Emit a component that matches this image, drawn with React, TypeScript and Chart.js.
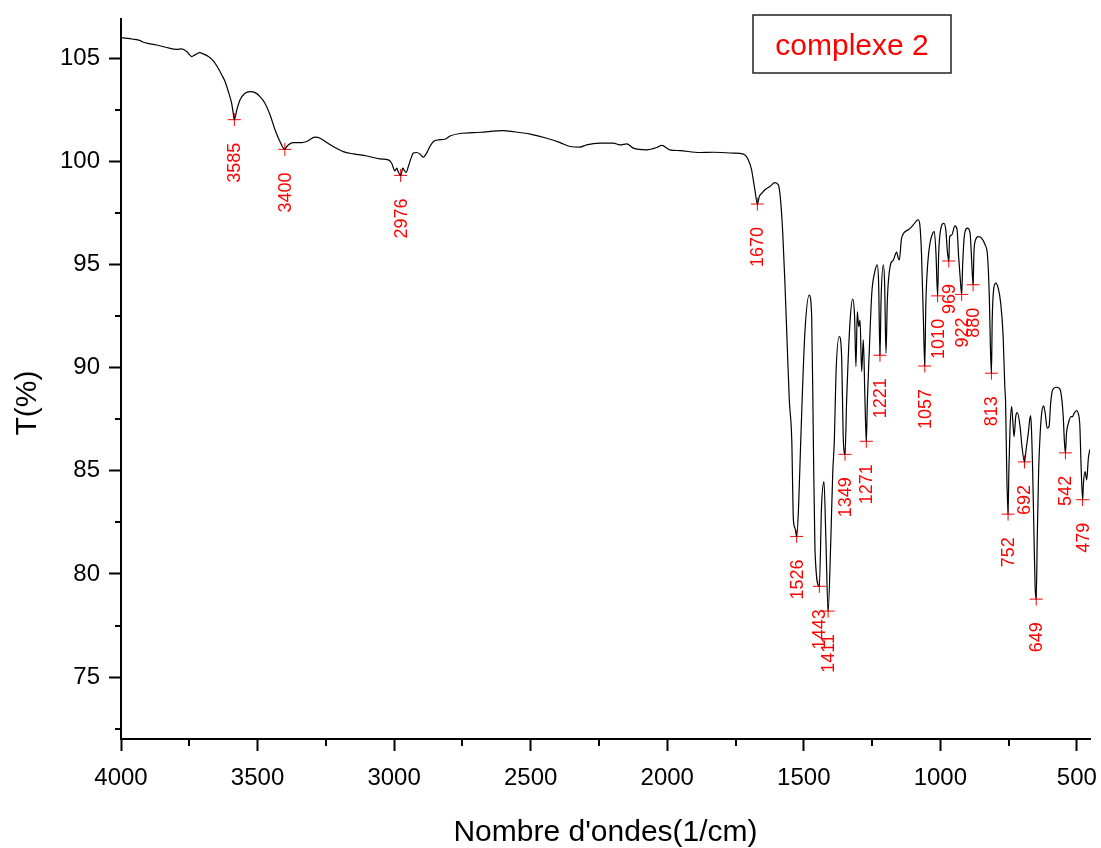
import { useEffect, useRef } from "react";
import { Chart, registerables } from "chart.js";

Chart.register(...registerables);

// IR spectrum of "complexe 2": wavenumber (cm-1) against transmittance (%)
const wavenumbers = [
  4000, 3955, 3930, 3918, 3906, 3869, 3833, 3796, 3778, 3759, 3741, 3729, 3711, 3699, 3680,
  3662, 3644, 3631, 3619, 3607, 3595, 3589, 3585, 3576, 3564, 3546, 3528, 3509, 3491, 3473,
  3454, 3436, 3418, 3400, 3393, 3369, 3338, 3320, 3290, 3271, 3247, 3223, 3186, 3149, 3100,
  3052, 3021, 3009, 2997, 2990, 2985, 2976, 2968, 2964, 2956, 2948, 2936, 2930, 2917, 2905,
  2893, 2881, 2869, 2856, 2838, 2814, 2795, 2759, 2685, 2600, 2563, 2502, 2441, 2392, 2356,
  2319, 2295, 2246, 2197, 2173, 2148, 2124, 2075, 2038, 2020, 1990, 1953, 1880, 1831, 1758,
  1721, 1703, 1691, 1685, 1679, 1670, 1663, 1654, 1642, 1624, 1606, 1593, 1585, 1577, 1569,
  1560, 1553, 1544, 1538, 1532, 1526, 1519, 1511, 1496, 1480, 1471, 1465, 1459, 1443, 1435,
  1426, 1419, 1411, 1401, 1394, 1388, 1382, 1370, 1361, 1356, 1349, 1343, 1331, 1321, 1314,
  1309, 1304, 1299, 1294, 1288, 1282, 1276, 1271, 1267, 1260, 1251, 1241, 1231, 1226, 1221,
  1217, 1209, 1204, 1199, 1194, 1184, 1172, 1160, 1154, 1150, 1142, 1117, 1099, 1081, 1075,
  1069, 1062, 1057, 1053, 1046, 1038, 1028, 1022, 1016, 1010, 1006, 999, 987, 980, 974,
  969, 966, 958, 947, 939, 933, 927, 922, 918, 912, 901, 891, 886, 880, 877,
  871, 861, 849, 836, 827, 820, 817, 813, 810, 805, 797, 788, 779, 770, 764,
  761, 757, 752, 749, 745, 739, 735, 730, 724, 718, 708, 701, 692, 686, 678,
  670, 667, 662, 657, 653, 649, 645, 640, 635, 629, 622, 616, 609, 602, 596,
  589, 574, 562, 555, 550, 546, 542, 538, 531, 522, 516, 510, 501, 495, 489,
  485, 479, 476, 470, 464, 458, 452,
];

const transmittance = [
  106.0, 105.92, 105.85, 105.77, 105.73, 105.64, 105.52, 105.43, 105.45, 105.32, 105.08, 105.16, 105.27, 105.21, 105.08,
  104.87, 104.51, 104.19, 103.87, 103.38, 102.82, 102.33, 102.02, 102.49, 102.98, 103.3, 103.38, 103.33, 103.14, 102.82,
  102.25, 101.53, 100.96, 100.58, 100.72, 100.91, 100.91, 100.96, 101.17, 101.12, 100.91, 100.72, 100.47, 100.36, 100.26,
  100.12, 100.07, 99.91, 99.54, 99.67, 99.5, 99.32, 99.67, 99.59, 99.46, 99.75, 100.23, 100.4, 100.43, 100.35,
  100.2, 100.4, 100.72, 100.96, 101.04, 101.07, 101.23, 101.35, 101.41, 101.49, 101.44, 101.32, 101.12, 100.91, 100.72,
  100.69, 100.8, 100.88, 100.88, 100.8, 100.85, 100.64, 100.56, 100.67, 100.77, 100.56, 100.52, 100.43, 100.44, 100.4,
  100.35, 100.07, 99.59, 99.1, 98.62, 97.93, 98.29, 98.45, 98.62, 98.78, 98.97, 98.86, 98.13, 96.52, 94.1,
  90.86, 88.44, 86.5, 82.62, 82.22, 81.82, 83.27, 86.5, 91.68, 93.52, 92.47, 86.5, 81.17, 79.4, 83.27,
  84.48, 81.65, 78.2, 81.65, 84.89, 86.5, 89.75, 91.51, 90.38, 86.83, 85.8, 88.44, 92.16, 93.32, 92.48,
  90.05, 92.72, 91.99, 92.31, 89.81, 91.35, 88.44, 86.43, 88.44, 90.86, 93.61, 94.58, 94.98, 94.1, 90.6,
  93.29, 94.98, 94.1, 90.7, 93.29, 94.9, 95.22, 95.6, 95.3, 95.22, 96.28, 96.68, 96.92, 97.17, 96.92,
  95.55, 92.32, 90.08, 93.13, 95.07, 96.03, 96.52, 96.6, 95.55, 93.48, 95.55, 96.68, 97.0, 96.68, 95.6,
  95.17, 96.35, 96.43, 96.87, 96.71, 95.38, 94.3, 93.55, 95.06, 96.4, 96.76, 96.52, 95.38, 94.02, 95.55,
  96.19, 96.35, 96.28, 95.95, 95.38, 93.13, 91.19, 89.73, 92.32, 93.77, 94.1, 93.85, 93.13, 91.51, 89.08,
  88.28, 85.05, 82.9, 85.05, 86.99, 88.11, 87.47, 86.66, 87.63, 87.82, 87.14, 86.17, 85.43, 86.02, 86.83,
  87.68, 87.23, 85.05, 81.81, 79.39, 78.78, 81.81, 85.05, 86.66, 87.79, 88.15, 87.79, 87.07, 87.14, 88.28,
  88.92, 89.05, 88.96, 88.44, 87.63, 86.5, 85.87, 86.83, 87.31, 87.63, 87.63, 87.79, 87.92, 87.79, 87.14,
  85.37, 83.6, 84.4, 84.96, 84.56, 85.61, 86.05,
];

// Picked absorption bands
const peakWavenumbers = [
  3585, 3400, 2976, 1670, 1526, 1443, 1411, 1349, 1271, 1221, 1057,
  1010, 969, 922, 880, 813, 752, 692, 649, 542, 479,
];
const peakTransmittance = [
  102.02, 100.58, 99.32, 97.93, 81.82, 79.4, 78.2, 85.8, 86.43, 90.6, 90.08,
  93.48, 95.17, 93.55, 94.02, 89.73, 82.9, 85.43, 78.78, 85.87, 83.6,
];

const xMajorTicks = [4000, 3500, 3000, 2500, 2000, 1500, 1000, 500];
const xMinorTicks = [3750, 3250, 2750, 2250, 1750, 1250, 750];
const yMajorTicks = [75, 80, 85, 90, 95, 100, 105];
const yMinorTicks = [72.5, 77.5, 82.5, 87.5, 92.5, 97.5, 102.5];

const seriesName = "complexe 2";
const xTitle = "Nombre d'ondes(1/cm)";
const yTitle = "T(%)";

const FONT = "'Liberation Sans', Arial, Helvetica, sans-serif";

const minorTicksPlugin = {
  id: "minorTicks",
  afterDraw(chart: any) {
    const { ctx, scales, chartArea } = chart;
    ctx.save();
    ctx.strokeStyle = "#000";
    ctx.lineWidth = 2;
    ctx.beginPath();
    for (const v of xMinorTicks) {
      const px = Math.round(scales.x.getPixelForValue(v));
      ctx.moveTo(px, chartArea.bottom);
      ctx.lineTo(px, chartArea.bottom + 7);
    }
    for (const v of yMinorTicks) {
      const py = Math.round(scales.y.getPixelForValue(v));
      ctx.moveTo(chartArea.left, py);
      ctx.lineTo(chartArea.left - 6, py);
    }
    ctx.stroke();
    ctx.restore();
  },
};

const peakLabelsPlugin = {
  id: "peakLabels",
  afterDatasetsDraw(chart: any) {
    const { ctx } = chart;
    const meta = chart.getDatasetMeta(1);
    ctx.save();
    ctx.fillStyle = "#ff0000";
    ctx.font = `18px ${FONT}`;
    ctx.textAlign = "right";
    ctx.textBaseline = "middle";
    meta.data.forEach((pt: any, i: number) => {
      ctx.save();
      ctx.translate(pt.x + 1, pt.y + 23);
      ctx.rotate(-Math.PI / 2);
      ctx.fillText(String(peakWavenumbers[i]), 0, 0);
      ctx.restore();
    });
    ctx.restore();
  },
};

const legendBoxPlugin = {
  id: "legendBox",
  afterDraw(chart: any) {
    const { ctx } = chart;
    ctx.save();
    ctx.strokeStyle = "#222";
    ctx.lineWidth = 1.5;
    ctx.strokeRect(753, 15, 198, 58);
    ctx.fillStyle = "#ff0000";
    ctx.font = `30px ${FONT}`;
    ctx.textAlign = "center";
    ctx.textBaseline = "alphabetic";
    ctx.fillText(seriesName, 852, 55);
    ctx.restore();
  },
};

const yTitlePlugin = {
  id: "yAxisTitle",
  afterDraw(chart: any) {
    const { ctx } = chart;
    ctx.save();
    ctx.fillStyle = "#000";
    ctx.font = `30px ${FONT}`;
    ctx.textAlign = "center";
    ctx.textBaseline = "middle";
    ctx.translate(28, 403);
    ctx.rotate(-Math.PI / 2);
    ctx.fillText(yTitle, 0, 0);
    ctx.restore();
  },
};

export default function App() {
  const canvasRef = useRef<HTMLCanvasElement | null>(null);

  useEffect(() => {
    const canvas = canvasRef.current;
    if (!canvas) return;

    const spectrum = wavenumbers.map((w, i) => ({ x: w, y: transmittance[i] }));
    const peaks = peakWavenumbers.map((w, i) => ({ x: w, y: peakTransmittance[i] }));

    const chart = new Chart(canvas, {
      type: "line",
      data: {
        datasets: [
          {
            label: seriesName,
            data: spectrum,
            borderColor: "#000",
            borderWidth: 1.2,
            pointRadius: 0,
            fill: false,
            cubicInterpolationMode: "monotone",
          },
          {
            label: "peaks",
            data: peaks,
            showLine: false,
            pointStyle: "cross",
            pointRadius: 6.5,
            pointBorderColor: "#ff0000",
            pointBorderWidth: 1,
            borderColor: "#ff0000",
          },
        ],
      },
      options: {
        animation: false,
        responsive: false,
        events: [],
        layout: { padding: { left: 0, top: 19, right: 11, bottom: 0 } },
        plugins: {
          legend: { display: false },
          tooltip: { enabled: false },
        },
        scales: {
          x: {
            type: "linear",
            position: "bottom",
            reverse: true,
            min: 452,
            max: 4000,
            afterBuildTicks: (scale: any) => {
              scale.ticks = xMajorTicks.map((v) => ({ value: v }));
            },
            afterFit: (scale: any) => {
              scale.height = 109;
              scale.paddingLeft = 0;
              scale.paddingRight = 0;
            },
            ticks: {
              autoSkip: false,
              maxRotation: 0,
              color: "#000",
              padding: 13,
              font: { family: FONT, size: 24 },
              callback: (v: any) => String(v),
            },
            grid: {
              drawOnChartArea: false,
              drawTicks: true,
              tickLength: 12,
              tickWidth: 2,
              tickColor: "#000",
            },
            border: { display: true, color: "#000", width: 2 },
            title: {
              display: true,
              text: xTitle,
              color: "#000",
              font: { family: FONT, size: 30, lineHeight: 1 },
              padding: { top: 0, bottom: 0 },
            },
          },
          y: {
            type: "linear",
            position: "left",
            min: 72,
            max: 106.9,
            afterBuildTicks: (scale: any) => {
              scale.ticks = yMajorTicks.map((v) => ({ value: v }));
            },
            afterFit: (scale: any) => {
              scale.width = 121;
              scale.paddingTop = 0;
              scale.paddingBottom = 0;
            },
            ticks: {
              autoSkip: false,
              color: "#000",
              padding: 9,
              font: { family: FONT, size: 24 },
              callback: (v: any) => String(v),
            },
            grid: {
              drawOnChartArea: false,
              drawTicks: true,
              tickLength: 12,
              tickWidth: 2,
              tickColor: "#000",
            },
            border: { display: true, color: "#000", width: 2 },
            title: { display: false },
          },
        },
      },
      plugins: [minorTicksPlugin, peakLabelsPlugin, legendBoxPlugin, yTitlePlugin],
    } as any);

    return () => chart.destroy();
  }, []);

  return (
    <div style={{ position: "absolute", left: 0, top: 0, width: 1101, height: 848, background: "#fff" }}>
      <canvas ref={canvasRef} width={1101} height={848} style={{ display: "block" }} />
    </div>
  );
}
